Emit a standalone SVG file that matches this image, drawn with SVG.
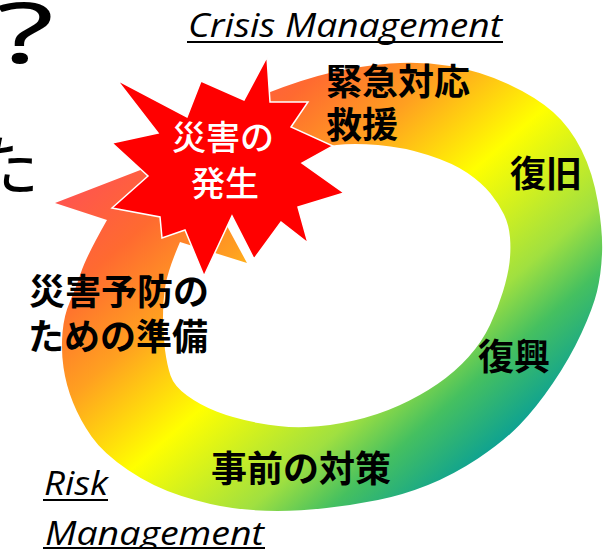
<svg xmlns="http://www.w3.org/2000/svg" width="606" height="549" viewBox="0 0 606 549">
  <style>
    .jp { font-family: "Noto Sans CJK JP", "Noto Sans", sans-serif; }
    .label { font-size: 36px; font-weight: 700; fill: #000; }
    .burst-text { font-size: 34px; font-weight: 500; fill: #fff; text-anchor: middle; }
    .phase { font-family: "Open Sans", "Liberation Sans", sans-serif; font-style: italic; font-size: 33px; fill: #000; }
    .rule { stroke: #000; stroke-width: 2; }
  </style>
  <defs>
    <linearGradient id="cycleFill" gradientUnits="userSpaceOnUse" x1="119" y1="135" x2="448" y2="511">
      <stop offset="0" stop-color="#ff5252"/>
      <stop offset="0.17" stop-color="#ff6a30"/>
      <stop offset="0.33" stop-color="#ffa020"/>
      <stop offset="0.52" stop-color="#ffff00"/>
      <stop offset="0.735" stop-color="#a0e040"/>
      <stop offset="0.84" stop-color="#45c060"/>
      <stop offset="1" stop-color="#009a9e"/>
    </linearGradient>
  </defs>

  <rect width="606" height="549" fill="#fff"/>

  <!-- fragments of neighbouring slide text -->
  <text x="-4" y="63" font-family="Noto Sans, sans-serif" font-size="84" textLength="58" lengthAdjust="spacingAndGlyphs" fill="#000">?</text>
  <text class="jp" x="-27" y="190" font-size="66" fill="#000">た</text>

  <!-- cycle arrow -->
  <g id="connectors">
    <path id="cycle-arrow" fill="url(#cycleFill)" d="M265,94 Q303,79 331.5,72.5 Q360,66 390,63.5 Q420,61 450,66 Q480,71 508,84 Q536,97 553,112 Q570,127 581.5,150 Q593,173 598,203 Q603,233 602,254 Q601,275 597,291.5 Q593,308 581.5,333 Q570,358 553,383 Q536,408 519.5,425 Q503,442 478,458.5 Q453,475 428,485 Q403,495 378,500 Q353,505 326.5,508 Q300,511 277.5,511 Q255,511 232.5,508 Q210,505 181.5,496 Q153,487 128,470 Q103,453 91.5,436.5 Q80,420 73,402.5 Q66,385 63.5,367.5 Q61,350 62.5,332.5 Q64,315 70,301.5 Q76,288 81,272.5 Q86,257 107,220 L55,203 L187,152 L247,263 L180,242 Q168,270 165.5,285 Q163,300 163,317.5 Q163,335 165,350 Q167,365 170.5,375.5 Q174,386 187,395.5 Q200,405 216.5,411.5 Q233,418 258,423 Q283,428 306.5,427 Q330,426 354,420.5 Q378,415 399,405.5 Q420,396 437.5,384 Q455,372 468.5,357 Q482,342 490,325 Q498,308 503,291.5 Q508,275 509.5,262.5 Q511,250 510,237.5 Q509,225 504,214.5 Q499,204 490.5,193.5 Q482,183 467.5,173 Q453,163 428,155 Q403,147 378,145 Q353,143 336.5,145 Q320,147 299,153 Z"/>
  </g>

  <!-- disaster burst -->
  <g id="disaster-burst">
    <polygon fill="#ff0000" stroke="#fff" stroke-width="1.5" stroke-linejoin="miter" points="267,57 270,102 308,102 291,127 333,146 302,163 344,193 298,207 308,243 281,222 254,259 232,216 204,276 185,230 162,238 160,217 112,208 148,176 112,143 158,133 117,80 187,117 201,81 244,100"/>
    <text class="jp burst-text" x="223" y="150">災害の</text>
    <text class="jp burst-text" x="225" y="195.5">発生</text>
  </g>

  <!-- phase labels -->
  <g id="label-response">
    <text class="jp label" x="326" y="94.5">緊急対応</text>
    <text class="jp label" x="326" y="137.5">救援</text>
  </g>
  <g id="label-restoration">
    <text class="jp label" x="510" y="187">復旧</text>
  </g>
  <g id="label-reconstruction">
    <text class="jp label" x="478" y="370">復興</text>
  </g>
  <g id="label-mitigation">
    <text class="jp label" x="211" y="482">事前の対策</text>
  </g>
  <g id="label-preparedness">
    <text class="jp label" x="29" y="305">災害予防の</text>
    <text class="jp label" x="28" y="350">ための準備</text>
  </g>

  <!-- management headings -->
  <g id="heading-crisis">
    <text class="phase" x="188" y="36.5" textLength="314" lengthAdjust="spacingAndGlyphs">Crisis Management</text>
    <line class="rule" x1="187" y1="42" x2="503" y2="42"/>
  </g>
  <g id="heading-risk">
    <text class="phase" x="44" y="495" textLength="64" lengthAdjust="spacingAndGlyphs">Risk</text>
    <line class="rule" x1="43" y1="500" x2="108" y2="500"/>
    <text class="phase" x="45" y="545" textLength="219" lengthAdjust="spacingAndGlyphs">Management</text>
    <line class="rule" x1="43" y1="548" x2="265" y2="548"/>
  </g>
</svg>
